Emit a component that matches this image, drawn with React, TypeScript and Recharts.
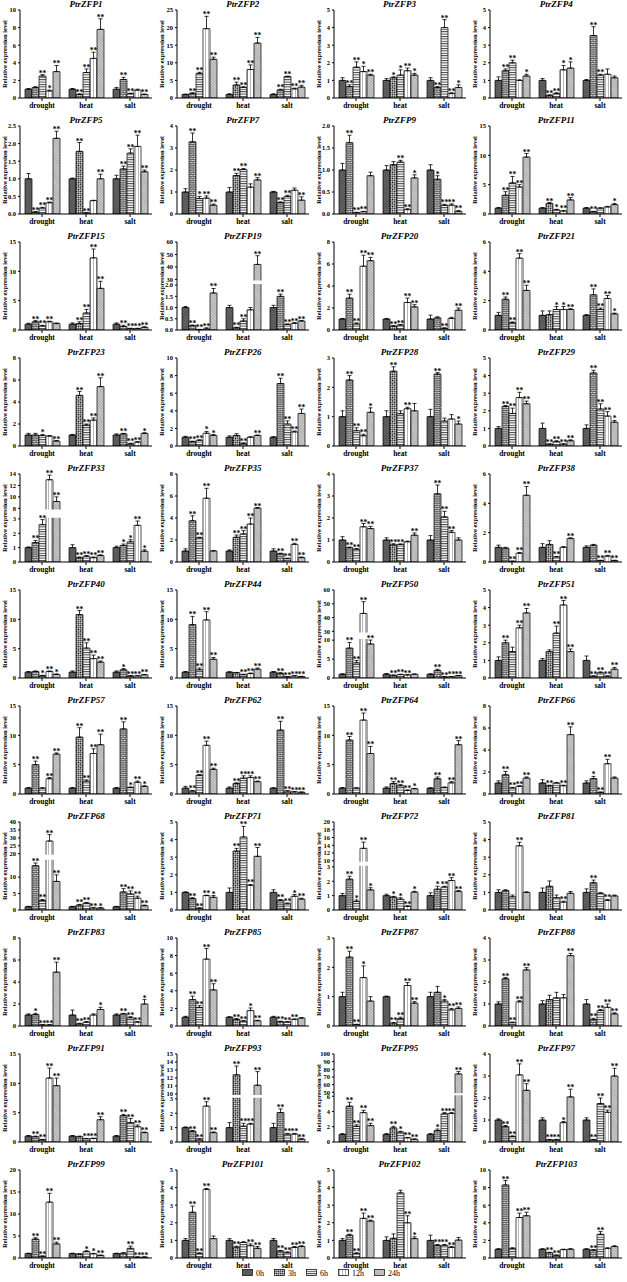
import React from "react";
import { Bar, BarChart, ErrorBar, LabelList, ReferenceArea, XAxis, YAxis } from "recharts";

const STRESSES = ["drought", "heat", "salt"];
const TIMES = ["0h", "3h", "6h", "12h", "24h"];

const GENES = [
  "PtrZFP1", "PtrZFP2", "PtrZFP3", "PtrZFP4",
  "PtrZFP5", "PtrZFP7", "PtrZFP9", "PtrZFP11",
  "PtrZFP15", "PtrZFP19", "PtrZFP20", "PtrZFP21",
  "PtrZFP23", "PtrZFP26", "PtrZFP28", "PtrZFP29",
  "PtrZFP33", "PtrZFP35", "PtrZFP37", "PtrZFP38",
  "PtrZFP40", "PtrZFP44", "PtrZFP50", "PtrZFP51",
  "PtrZFP57", "PtrZFP62", "PtrZFP64", "PtrZFP66",
  "PtrZFP68", "PtrZFP71", "PtrZFP72", "PtrZFP81",
  "PtrZFP83", "PtrZFP85", "PtrZFP87", "PtrZFP88",
  "PtrZFP91", "PtrZFP93", "PtrZFP95", "PtrZFP97",
  "PtrZFP99", "PtrZFP101", "PtrZFP102", "PtrZFP103",
];

// relative expression: drought 0h..24h, heat 0h..24h, salt 0h..24h
const VALUES = [
  [1.0, 1.2, 2.5, 0.8, 3.0, 1.0, 0.4, 2.9, 4.5, 7.8, 1.0, 2.1, 0.5, 0.9, 0.4],
  [1.0, 1.3, 7.0, 19.7, 11.0, 1.0, 3.7, 3.0, 8.1, 15.6, 1.0, 2.3, 6.1, 2.6, 3.1],
  [1.0, 0.65, 1.75, 1.5, 1.3, 1.0, 1.15, 1.3, 1.55, 1.3, 1.0, 0.6, 4.0, 0.25, 0.6],
  [1.0, 1.55, 2.0, 1.0, 1.25, 1.0, 0.15, 0.25, 1.6, 1.7, 1.0, 3.55, 1.3, 1.35, 1.15],
  [1.0, 0.05, 0.17, 0.32, 2.15, 1.0, 1.78, 0.03, 0.38, 1.0, 1.0, 1.28, 1.73, 1.92, 1.2],
  [1.0, 3.28, 0.7, 0.72, 0.4, 1.0, 1.75, 2.02, 1.22, 1.55, 1.0, 0.52, 0.8, 1.08, 0.63],
  [1.0, 1.62, 0.03, 0.05, 0.87, 1.0, 1.12, 1.18, 0.1, 0.82, 1.0, 0.79, 0.2, 0.2, 0.06],
  [1.0, 3.2, 5.3, 4.6, 9.7, 1.0, 1.8, 0.7, 0.5, 2.4, 1.0, 0.4, 1.0, 1.2, 1.6],
  [1.0, 1.4, 0.7, 1.4, 1.1, 1.0, 1.1, 2.9, 12.3, 7.1, 1.0, 0.6, 0.25, 0.25, 0.45],
  [1.0, 0.2, 0.02, 0.05, 1.65, 1.0, 0.1, 0.4, 0.9, 42, 1.0, 1.5, 0.25, 0.3, 0.4],
  [1.0, 2.9, 0.55, 5.8, 6.3, 1.0, 0.35, 0.45, 2.5, 2.1, 1.0, 1.1, 0.15, 1.05, 1.8],
  [1.0, 2.1, 0.5, 4.9, 2.7, 1.0, 1.05, 1.4, 1.4, 1.4, 1.0, 2.4, 1.4, 2.15, 1.1],
  [1.0, 1.0, 0.95, 0.9, 0.45, 1.0, 4.6, 1.9, 2.35, 5.4, 1.0, 1.1, 0.2, 0.35, 1.15],
  [1.0, 0.5, 0.65, 1.45, 1.2, 1.0, 1.2, 0.3, 1.0, 1.2, 1.0, 7.1, 2.5, 1.6, 3.7],
  [1.0, 2.25, 0.52, 0.35, 1.15, 1.0, 2.55, 1.1, 1.27, 1.2, 1.0, 2.45, 0.85, 0.92, 0.75],
  [1.0, 2.25, 1.85, 2.75, 2.4, 1.0, 0.1, 0.25, 0.1, 0.3, 1.0, 4.15, 2.1, 1.7, 1.35],
  [1.0, 1.35, 2.6, 13.0, 9.2, 1.0, 0.3, 0.4, 0.3, 0.45, 1.0, 1.15, 1.4, 2.55, 0.75],
  [1.0, 3.75, 2.2, 5.8, 1.0, 1.0, 2.25, 2.55, 3.45, 4.9, 1.0, 0.75, 0.3, 1.6, 0.4],
  [1.0, 0.65, 0.58, 1.6, 1.52, 1.0, 0.78, 0.8, 0.92, 1.22, 1.0, 3.1, 2.05, 1.35, 1.0],
  [1.0, 0.95, 0.05, 0.6, 4.55, 1.0, 1.2, 0.35, 1.0, 1.6, 1.0, 1.15, 0.1, 0.4, 0.1],
  [1.0, 1.1, 0.4, 1.1, 0.6, 1.0, 10.8, 5.1, 3.3, 2.7, 1.0, 1.4, 0.35, 0.35, 0.55],
  [1.0, 9.1, 1.4, 9.9, 3.2, 1.0, 0.9, 0.55, 0.75, 1.5, 1.0, 0.8, 0.2, 0.35, 0.25],
  [1.0, 7.9, 4.0, 43, 9.0, 1.0, 0.7, 0.9, 0.8, 1.0, 1.0, 2.0, 0.3, 0.35, 0.6],
  [1.0, 2.0, 1.5, 2.85, 3.7, 1.0, 1.5, 2.55, 4.15, 1.5, 1.0, 0.1, 0.3, 0.1, 0.5],
  [1.0, 5.0, 1.0, 2.6, 6.8, 1.0, 9.7, 2.2, 6.9, 8.4, 1.0, 11.1, 1.1, 2.0, 1.3],
  [1.0, 0.5, 3.2, 8.3, 4.2, 1.0, 1.8, 2.7, 2.8, 2.1, 1.0, 10.9, 0.5, 0.35, 0.3],
  [1.0, 9.2, 1.0, 12.6, 6.9, 1.0, 1.8, 1.4, 0.6, 0.9, 1.0, 2.6, 1.1, 1.9, 8.4],
  [1.0, 1.75, 0.55, 0.7, 1.45, 1.0, 0.75, 1.0, 0.75, 5.4, 1.0, 1.4, 0.15, 2.75, 1.45],
  [1.0, 13.5, 2.9, 28, 8.7, 1.0, 1.5, 2.1, 0.6, 0.6, 1.0, 5.5, 4.9, 3.6, 1.3],
  [1.0, 0.65, 0.1, 0.82, 0.72, 1.0, 3.35, 4.15, 1.4, 3.05, 1.0, 0.55, 0.35, 0.78, 0.62],
  [1.0, 2.15, 0.6, 13.2, 1.4, 1.0, 0.9, 0.75, 0.25, 1.25, 1.0, 1.45, 1.6, 2.05, 1.3],
  [1.0, 1.1, 0.75, 3.65, 1.0, 1.0, 1.35, 0.7, 0.45, 0.95, 1.0, 1.55, 0.95, 0.55, 0.8],
  [1.0, 1.05, 0.1, 0.1, 4.9, 1.0, 0.2, 0.35, 1.0, 1.5, 1.0, 1.1, 0.75, 0.35, 2.0],
  [1.0, 3.0, 2.1, 7.6, 4.1, 1.0, 0.75, 0.55, 1.75, 0.6, 1.0, 0.5, 0.45, 0.75, 0.9],
  [1.0, 2.35, 0.05, 1.65, 0.85, 1.0, 0.1, 0.25, 1.38, 0.78, 1.0, 1.15, 0.85, 0.55, 0.6],
  [1.0, 2.15, 0.15, 1.1, 2.55, 1.0, 1.2, 1.28, 1.28, 3.2, 1.0, 0.3, 0.7, 0.85, 0.55],
  [1.0, 0.9, 0.4, 10.9, 9.6, 1.0, 0.9, 0.55, 0.6, 3.8, 1.0, 4.5, 3.3, 2.6, 1.6],
  [1.0, 0.75, 0.2, 2.5, 0.65, 1.0, 12.4, 1.1, 1.25, 11.1, 1.0, 2.05, 0.55, 0.55, 0.2],
  [1.0, 4.7, 2.05, 3.85, 2.15, 1.0, 1.85, 1.3, 0.55, 0.35, 1.0, 1.5, 3.7, 3.75, 74],
  [1.0, 0.7, 0.25, 3.05, 2.35, 1.0, 0.1, 0.1, 0.88, 2.05, 1.0, 0.1, 1.75, 1.35, 3.0],
  [1.0, 4.3, 0.4, 12.7, 3.2, 1.0, 0.9, 1.45, 0.95, 0.6, 1.0, 1.1, 2.2, 0.2, 0.2],
  [1.0, 2.6, 0.25, 3.9, 1.1, 1.0, 0.62, 0.88, 0.7, 0.55, 1.0, 0.4, 0.3, 0.6, 0.65],
  [1.0, 1.3, 0.25, 2.25, 2.1, 1.0, 1.12, 3.7, 2.0, 1.1, 1.0, 0.72, 0.72, 0.6, 1.02],
  [1.0, 8.3, 1.1, 4.6, 4.8, 1.0, 0.6, 0.3, 0.95, 1.0, 1.0, 0.9, 2.7, 1.1, 1.3],
];

// standard error, same layout as VALUES
const ERRORS = [
  [0.08, 0.08, 0.15, 0.1, 0.7, 0.08, 0.08, 0.4, 0.7, 1.2, 0.2, 0.25, 0.05, 0.1, 0.05],
  [0.1, 0.2, 0.3, 3.5, 0.6, 0.2, 0.8, 0.2, 1.3, 1.6, 0.2, 0.2, 0.1, 0.2, 0.5],
  [0.15, 0.1, 0.3, 0.3, 0.05, 0.1, 0.05, 0.3, 0.15, 0.1, 0.15, 0.05, 0.45, 0.05, 0.15],
  [0.2, 0.1, 0.15, 0.03, 0.1, 0.1, 0.03, 0.05, 0.25, 0.35, 0.05, 0.5, 0.05, 0.3, 0.1],
  [0.15, 0.02, 0.02, 0.02, 0.2, 0.02, 0.25, 0.01, 0.01, 0.13, 0.1, 0.08, 0.12, 0.32, 0.05],
  [0.15, 0.4, 0.1, 0.1, 0.05, 0.2, 0.1, 0.05, 0.15, 0.1, 0.03, 0.03, 0.05, 0.1, 0.15],
  [0.15, 0.17, 0.01, 0.01, 0.08, 0.1, 0.07, 0.04, 0.02, 0.07, 0.12, 0.08, 0.02, 0.03, 0.02],
  [0.1, 0.6, 1.1, 0.4, 0.6, 0.1, 0.15, 0.1, 0.1, 0.4, 0.1, 0.05, 0.05, 0.1, 0.2],
  [0.15, 0.2, 0.1, 0.1, 0.1, 0.2, 0.3, 0.6, 1.5, 1.2, 0.2, 0.2, 0.05, 0.05, 0.1],
  [0.05, 0.02, 0.01, 0.05, 0.2, 0.1, 0.02, 0.1, 0.1, 7, 0.1, 0.1, 0.02, 0.03, 0.02],
  [0.05, 0.35, 0.1, 1.0, 0.3, 0.05, 0.05, 0.05, 0.4, 0.2, 0.35, 0.1, 0.05, 0.1, 0.2],
  [0.2, 0.15, 0.05, 0.3, 0.35, 0.3, 0.25, 0.2, 0.2, 0.05, 0.05, 0.4, 0.1, 0.2, 0.05],
  [0.15, 0.15, 0.1, 0.05, 0.05, 0.05, 0.35, 0.1, 0.2, 0.8, 0.1, 0.05, 0.05, 0.05, 0.05],
  [0.1, 0.05, 0.05, 0.2, 0.1, 0.15, 0.2, 0.05, 0.05, 0.05, 0.05, 0.6, 0.35, 0.1, 0.5],
  [0.2, 0.15, 0.1, 0.05, 0.15, 0.2, 0.15, 0.1, 0.05, 0.25, 0.25, 0.05, 0.1, 0.15, 0.1],
  [0.1, 0.05, 0.3, 0.3, 0.15, 0.3, 0.02, 0.05, 0.03, 0.05, 0.2, 0.15, 0.3, 0.25, 0.1],
  [0.05, 0.15, 0.35, 0.8, 0.8, 0.2, 0.05, 0.05, 0.05, 0.05, 0.1, 0.1, 0.15, 0.3, 0.1],
  [0.2, 0.45, 0.05, 0.9, 0.05, 0.1, 0.2, 0.3, 0.55, 0.05, 0.2, 0.05, 0.05, 0.1, 0.05],
  [0.15, 0.03, 0.03, 0.15, 0.1, 0.1, 0.05, 0.02, 0.03, 0.1, 0.2, 0.4, 0.25, 0.08, 0.1],
  [0.15, 0.05, 0.01, 0.05, 0.6, 0.25, 0.25, 0.03, 0.05, 0.05, 0.1, 0.05, 0.02, 0.05, 0.02],
  [0.1, 0.1, 0.05, 0.1, 0.1, 0.2, 0.7, 0.9, 0.6, 0.2, 0.2, 0.2, 0.05, 0.05, 0.05],
  [0.1, 1.4, 0.3, 1.4, 0.3, 0.05, 0.05, 0.1, 0.1, 0.2, 0.1, 0.1, 0.03, 0.03, 0.03],
  [0.1, 1.5, 0.6, 8.5, 1.2, 0.2, 0.1, 0.1, 0.1, 0.05, 0.1, 0.3, 0.05, 0.05, 0.05],
  [0.2, 0.15, 0.25, 0.15, 0.25, 0.1, 0.1, 0.4, 0.25, 0.15, 0.25, 0.02, 0.05, 0.02, 0.1],
  [0.1, 0.6, 0.05, 0.2, 0.2, 0.1, 1.6, 0.2, 0.8, 1.8, 0.1, 1.2, 0.1, 0.2, 0.1],
  [0.3, 0.1, 0.1, 0.7, 0.2, 0.2, 0.1, 0.4, 0.3, 0.1, 0.05, 1.5, 0.05, 0.05, 0.03],
  [0.1, 0.6, 0.05, 1.2, 1.2, 0.2, 0.3, 0.2, 0.1, 0.05, 0.05, 0.3, 0.1, 0.2, 0.7],
  [0.2, 0.3, 0.05, 0.05, 0.1, 0.3, 0.05, 0.05, 0.05, 0.7, 0.2, 0.2, 0.03, 0.4, 0.1],
  [0.1, 0.8, 0.3, 4, 2, 0.1, 0.2, 0.2, 0.1, 0.1, 0.1, 1.0, 0.9, 0.6, 0.2],
  [0.03, 0.05, 0.02, 0.02, 0.1, 0.25, 0.15, 0.6, 0.05, 0.5, 0.15, 0.05, 0.05, 0.1, 0.05],
  [0.15, 0.2, 0.1, 1.6, 0.15, 0.1, 0.05, 0.1, 0.05, 0.05, 0.2, 0.2, 0.05, 0.2, 0.05],
  [0.15, 0.05, 0.1, 0.2, 0.03, 0.25, 0.3, 0.15, 0.05, 0.1, 0.2, 0.15, 0.03, 0.05, 0.05],
  [0.1, 0.1, 0.02, 0.02, 0.9, 0.45, 0.05, 0.05, 0.1, 0.2, 0.1, 0.05, 0.1, 0.05, 0.4],
  [0.1, 0.4, 0.2, 1.2, 0.7, 0.05, 0.1, 0.05, 0.3, 0.05, 0.1, 0.05, 0.05, 0.05, 0.05],
  [0.15, 0.2, 0.01, 0.4, 0.15, 0.02, 0.02, 0.05, 0.1, 0.05, 0.15, 0.2, 0.05, 0.05, 0.05],
  [0.1, 0.05, 0.03, 0.05, 0.1, 0.15, 0.2, 0.25, 0.15, 0.1, 0.2, 0.05, 0.05, 0.15, 0.05],
  [0.1, 0.1, 0.05, 1.7, 1.3, 0.1, 0.1, 0.05, 0.05, 0.5, 0.1, 0.2, 0.7, 0.3, 0.1],
  [0.05, 0.05, 0.03, 0.3, 0.05, 0.35, 1.1, 0.2, 0.05, 1.7, 0.3, 0.25, 0.05, 0.05, 0.03],
  [0.1, 0.5, 0.2, 0.3, 0.3, 0.1, 0.2, 0.1, 0.05, 0.05, 0.1, 0.2, 0.15, 0.1, 3],
  [0.05, 0.05, 0.03, 0.5, 0.3, 0.1, 0.02, 0.02, 0.05, 0.35, 0.1, 0.02, 0.25, 0.1, 0.35],
  [0.1, 0.3, 0.05, 2, 0.4, 0.1, 0.05, 0.2, 0.1, 0.05, 0.1, 0.1, 0.5, 0.05, 0.05],
  [0.1, 0.35, 0.05, 0.05, 0.15, 0.1, 0.05, 0.05, 0.1, 0.1, 0.1, 0.03, 0.05, 0.05, 0.05],
  [0.1, 0.05, 0.05, 0.3, 0.05, 0.2, 0.25, 0.15, 0.4, 0.1, 0.3, 0.05, 0.05, 0.05, 0.15],
  [0.05, 0.5, 0.05, 0.5, 0.4, 0.05, 0.05, 0.05, 0.05, 0.05, 0.05, 0.05, 0.3, 0.05, 0.1],
];

// significance marks: 0 none, 1 "*", 2 "**"
const SIGNIF = [
  "002120222202202", "022220222202222", "022120112102221", "022010221102200",
  "022220220202222", "021220220202202", "022200022101222", "022220212202001",
  "022200222202222", "022220220202222", "022220222200202", "022220011202221",
  "001020222202221", "022110020202222", "022210202002001", "022220222202221",
  "022220222201121", "022200222202222", "022220220202220", "002220020200222",
  "001210222201222", "022220022202222", "022220222002222", "020220022202222",
  "020220222202121", "022220222202222", "020220222102022", "022220202201220",
  "022220222102222", "022210222202212", "021210112101222", "000200002002020",
  "012220220102221", "022220221202220", "022100222200122", "022220000202222",
  "022220022202222", "022220222202222", "022220212201222", "022220221202222",
  "022220011200222", "022200202202222", "022220002102220", "020220220002200",
];

// [max, step] of ordinary y axes, null where the axis is broken
const Y_AXIS: (number[] | null)[] = [
  [10, 2], [25, 5], [5, 1], [5, 1],
  [2.5, 0.5], [4, 1], [2, 0.5], [15, 5],
  [15, 5], null, [8, 2], [6, 2],
  [8, 2], [10, 2], [3, 1], [5, 1],
  null, [8, 2], [4, 1], [6, 2],
  [15, 5], [15, 5], null, [5, 1],
  [15, 5], [15, 5], [15, 5], [8, 2],
  null, [5, 1], null, [5, 1],
  [8, 2], [10, 2], [3, 1], [4, 1],
  [15, 5], null, null, [4, 1],
  [20, 5], [5, 1], [5, 1], [10, 2],
];

const BREAK_GENES = ["PtrZFP19", "PtrZFP33", "PtrZFP50", "PtrZFP68", "PtrZFP72", "PtrZFP93", "PtrZFP95"];
const BREAK_LOW_MAX = [2, 3, 10, 15, 3, 3, 6];
const BREAK_LOW_TICKS = [[0, 0.5, 1, 1.5, 2], [0, 1, 2, 3], [0, 5, 10], [0, 5, 10], [0, 1, 2, 3], [0, 1, 2, 3], [0, 2, 4, 6]];
const BREAK_HIGH_TICKS = [
  [30, 40, 50, 60], [8, 10, 12, 14], [30, 40, 50, 60], [20, 25, 30, 35, 40],
  [10, 12, 14, 16, 18, 20], [10, 11, 12, 13, 14, 15], [50, 60, 70, 80, 90, 100],
];
// share of the plot height for the lower segment and for the gap
const BREAK_LAYOUT = [[0.51, 0.065], [0.49, 0.12], [0.43, 0.1], [0.56, 0.08], [0.49, 0.07], [0.49, 0.055], [0.52, 0.045]];

const SERIF = "Liberation Serif, Times New Roman, serif";
const W = 157;
const H = 116;
const COL = 156.75;
const ROW = 116;
const X_H = 18;
const MARGIN = { top: 10, right: 5, bottom: 0, left: 7 };
const PLOT_H = H - MARGIN.top - MARGIN.bottom - X_H;
const FILLS = ["url(#p0h)", "url(#p3h)", "url(#p6h)", "url(#p12h)", "url(#p24h)"];
const MARKS = ["", "*", "**"];

function Patterns() {
  return (
    <svg width={0} height={0} style={{ position: "absolute" }}>
      <defs>
        <pattern id="p0h" width={2} height={2} patternUnits="userSpaceOnUse" patternTransform="rotate(45)">
          <rect width={2} height={2} fill="#707070" />
          <rect width={0.8} height={2} fill="#3c3c3c" />
        </pattern>
        <pattern id="p3h" width={3} height={3} patternUnits="userSpaceOnUse" patternTransform="rotate(45)">
          <rect width={3} height={3} fill="#fff" />
          <rect width={1.5} height={1.5} fill="#111" />
          <rect x={1.5} y={1.5} width={1.5} height={1.5} fill="#111" />
        </pattern>
        <pattern id="p6h" width={3} height={2.4} patternUnits="userSpaceOnUse">
          <rect width={3} height={2.4} fill="#fff" />
          <rect width={3} height={1} fill="#444" />
        </pattern>
        <pattern id="p12h" width={3} height={3} patternUnits="userSpaceOnUse">
          <rect width={3} height={3} fill="#fff" />
          <rect width={0.6} height={3} fill="#888" />
        </pattern>
        <pattern id="p24h" width={2} height={2} patternUnits="userSpaceOnUse" patternTransform="rotate(-45)">
          <rect width={2} height={2} fill="#d4d4d4" />
          <rect width={0.8} height={2} fill="#9a9a9a" />
        </pattern>
      </defs>
    </svg>
  );
}

function Panel({ gi }: { gi: number }) {
  const name = GENES[gi];
  const bi = BREAK_GENES.indexOf(name);
  const vals = VALUES[gi];
  const errs = ERRORS[gi];
  const sig = SIGNIF[gi];

  let T: (v: number) => number;
  let dmax: number;
  const ticks: number[] = [];
  const labels = new Map<string, string>();
  let gap: number[] | null = null;

  if (bi < 0) {
    const [max, step] = Y_AXIS[gi] as number[];
    T = (v) => v;
    dmax = max;
    const dec = step < 1 ? 1 : 0;
    for (let t = 0; t <= max + 1e-9; t += step) {
      const tv = +t.toFixed(2);
      ticks.push(tv);
      labels.set(tv.toFixed(4), tv.toFixed(dec));
    }
  } else {
    const lowMax = BREAK_LOW_MAX[bi];
    const high = BREAK_HIGH_TICKS[bi];
    const hiMin = high[0];
    const hiMax = high[high.length - 1];
    const [lo, g] = BREAK_LAYOUT[bi];
    T = (v) =>
      v <= lowMax
        ? (v / lowMax) * lo
        : v < hiMin
          ? lo + ((v - lowMax) / (hiMin - lowMax)) * g
          : lo + g + ((v - hiMin) / (hiMax - hiMin)) * (1 - lo - g);
    dmax = 1;
    const low = BREAK_LOW_TICKS[bi];
    const dec = low.some((t) => t % 1 !== 0) ? 1 : 0;
    low.forEach((t) => {
      ticks.push(T(t));
      labels.set(T(t).toFixed(4), t.toFixed(dec));
    });
    high.forEach((t) => {
      ticks.push(T(t));
      labels.set(T(t).toFixed(4), String(t));
    });
    gap = [lo + 0.012, lo + g - 0.012];
  }

  // each time point is a stack: the bar itself, then a transparent
  // segment as tall as the error whose top carries the significance mark
  const data = STRESSES.map((stress, si) => {
    const row: any = { stress };
    TIMES.forEach((_, k) => {
      const v = vals[si * 5 + k];
      const e = errs[si * 5 + k];
      const tv = T(v);
      const te = T(v + e) - tv;
      row[`v${k}`] = tv;
      row[`e${k}`] = [0, te];
      row[`t${k}`] = te;
      row[`s${k}`] = MARKS[Number(sig[si * 5 + k])];
    });
    return row;
  });

  const row = Math.floor(gi / 4);
  const col = gi % 4;

  return (
    <div style={{ position: "absolute", left: col * COL, top: row * ROW, width: W, height: H }}>
      <div
        style={{
          position: "absolute",
          left: MARGIN.left + 13,
          top: 0,
          width: W - MARGIN.left - 13 - MARGIN.right,
          textAlign: "center",
          fontFamily: SERIF,
          fontStyle: "italic",
          fontWeight: "bold",
          fontSize: 9,
          lineHeight: "9px",
          color: "#000",
        }}
      >
        {name}
      </div>
      <div
        style={{
          position: "absolute",
          left: 5 - 50,
          top: MARGIN.top + PLOT_H / 2 - 5,
          width: 100,
          height: 10,
          lineHeight: "10px",
          textAlign: "center",
          transform: "rotate(-90deg)",
          fontFamily: SERIF,
          fontWeight: "bold",
          fontSize: 6.5,
          whiteSpace: "nowrap",
          color: "#000",
        }}
      >
        Relative expression level
      </div>
      <BarChart width={W} height={H} data={data} margin={MARGIN} barCategoryGap={5} barGap={0}>
        <XAxis
          dataKey="stress"
          height={X_H}
          interval={0}
          tickSize={3}
          tickLine={{ stroke: "#000" }}
          axisLine={{ stroke: "#000", strokeWidth: 1 }}
          tick={{ fontSize: 7.5, fontWeight: "bold", fill: "#000", fontFamily: SERIF }}
        />
        <YAxis
          width={13}
          domain={[0, dmax]}
          allowDataOverflow
          ticks={ticks}
          interval={0}
          tickSize={2}
          tickLine={{ stroke: "#000" }}
          axisLine={{ stroke: "#000", strokeWidth: 1 }}
          tickFormatter={(t: number) => labels.get(Number(t).toFixed(4)) ?? ""}
          tick={{ fontSize: 6.5, fontWeight: "bold", fill: "#000", fontFamily: SERIF }}
        />
        {TIMES.map((t, k) => (
          <Bar
            key={t}
            dataKey={`v${k}`}
            stackId={t}
            name={t}
            fill={FILLS[k]}
            stroke="#000"
            strokeWidth={0.7}
            isAnimationActive={false}
          >
            <ErrorBar dataKey={`e${k}`} width={2} strokeWidth={0.8} stroke="#000" direction="y" />
          </Bar>
        ))}
        {TIMES.map((t, k) => (
          <Bar
            key={`top-${t}`}
            dataKey={`t${k}`}
            stackId={t}
            fill="none"
            stroke="none"
            legendType="none"
            isAnimationActive={false}
          >
            <LabelList
              dataKey={`s${k}`}
              position="top"
              offset={-1}
              fill="#000"
              fontSize={7.5}
              fontWeight="bold"
              fontFamily={SERIF}
            />
          </Bar>
        ))}
        {gap ? (
          <ReferenceArea
            y1={gap[0]}
            y2={gap[1]}
            fill="#fff"
            fillOpacity={1}
            stroke="none"
            ifOverflow="extendDomain"
            {...({ zIndex: 450 } as any)}
          />
        ) : null}
      </BarChart>
    </div>
  );
}

function Legend() {
  const pitch = [0, 32, 64, 96, 132];
  return (
    <svg width={200} height={14} style={{ position: "absolute", left: 240, top: 1266 }}>
      {TIMES.map((t, k) => (
        <g key={t} transform={`translate(${pitch[k]},0)`}>
          <rect x={2.5} y={3.5} width={10} height={6} fill={FILLS[k]} stroke="#000" strokeWidth={0.7} />
          <text x={16} y={9.5} fontSize={8} fontFamily={SERIF} fill="#000">
            {t}
          </text>
        </g>
      ))}
    </svg>
  );
}

export default function App() {
  return (
    <div
      style={{
        position: "absolute",
        left: 0,
        top: 0,
        width: 627,
        height: 1282,
        background: "#fff",
        overflow: "hidden",
        color: "#000",
      }}
    >
      <Patterns />
      {GENES.map((g, gi) => (
        <Panel key={g} gi={gi} />
      ))}
      <Legend />
    </div>
  );
}
